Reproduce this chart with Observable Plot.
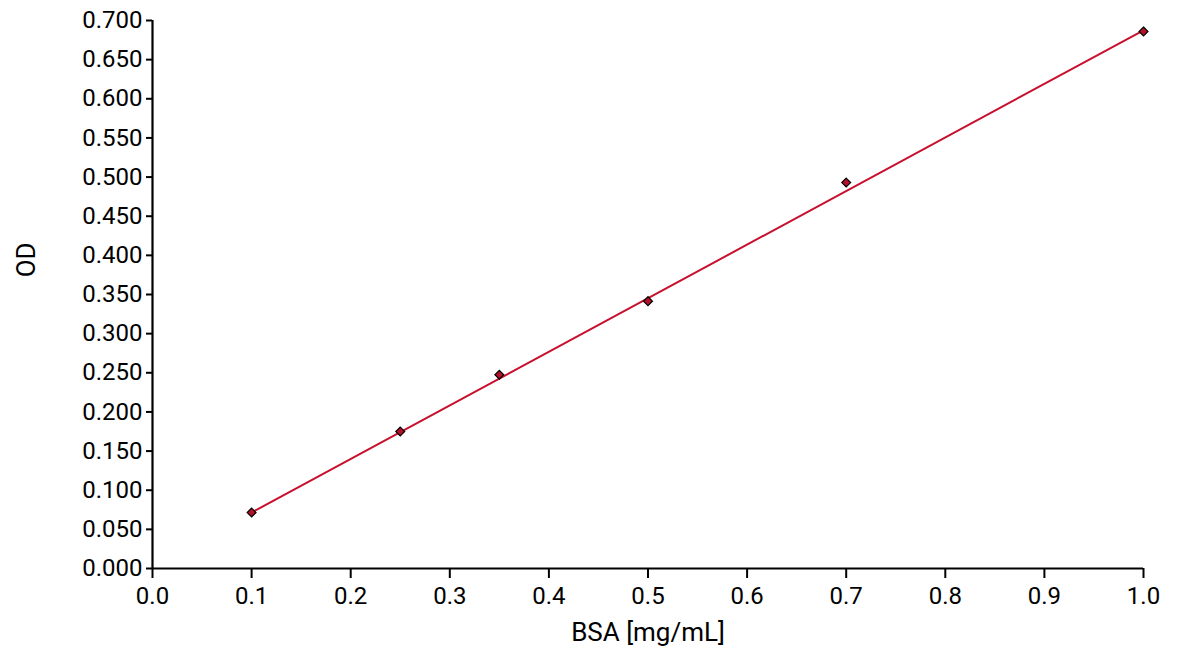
<!DOCTYPE html>
<html><head><meta charset="utf-8">
<script src="https://cdn.jsdelivr.net/npm/d3@7"></script>
<script src="https://cdn.jsdelivr.net/npm/@observablehq/plot@0.6"></script>
<style>
html,body{margin:0;padding:0;background:#fff}
#chart svg{font-family:Roboto,"DejaVu Sans",sans-serif;display:block}
</style>
</head><body><div id="chart"></div>
<script>
// Measured points
const bsa = [0.1, 0.25, 0.35, 0.5, 0.7, 1.0];
const od  = [0.0715, 0.175, 0.2475, 0.3415, 0.493, 0.686];
// Fitted standard line (endpoints)
const fitX = [0.1, 1.0];
const fitY = [0.0715, 0.6875];
// Axis ticks
const xTicks = [0, 0.1, 0.2, 0.3, 0.4, 0.5, 0.6, 0.7, 0.8, 0.9, 1.0];
const yTicks = [0, 0.05, 0.1, 0.15, 0.2, 0.25, 0.3, 0.35, 0.4, 0.45, 0.5, 0.55, 0.6, 0.65, 0.7];
const xLabel = "BSA [mg/mL]";
const yLabel = "OD";
const yLabelAt = [0.372];

const points = bsa.map((x, i) => ({x, y: od[i]}));
const fit = fitX.map((x, i) => ({x, y: fitY[i]}));

const chart = Plot.plot({
  width: 1200,
  height: 667,
  marginLeft: 152,
  marginRight: 57,
  marginTop: 20,
  marginBottom: 99,
  style: {fontFamily: "Roboto, 'DejaVu Sans', sans-serif", background: "#fff", color: "#000"},
  x: {domain: [0, 1], label: null},
  y: {domain: [0, 0.7], label: null},
  marks: [
    Plot.axisX({ticks: xTicks, tickFormat: d3.format(".1f"), tickSize: 10, tickPadding: 8,
      fontSize: 24, stroke: "#000", strokeWidth: 2, strokeOpacity: 1, label: null}),
    Plot.axisY({ticks: yTicks, tickFormat: d3.format(".3f"), tickSize: 6, tickPadding: 4,
      fontSize: 24, stroke: "#000", strokeWidth: 2, strokeOpacity: 1, label: null}),
    Plot.ruleX([0], {stroke: "#000", strokeWidth: 2.2}),
    Plot.ruleY([0], {stroke: "#000", strokeWidth: 2.2}),
    Plot.text([xLabel], {frameAnchor: "bottom", dy: 72, fontSize: 26, fill: "#000", text: d => d}),
    Plot.text(yLabelAt, {y: d => d, frameAnchor: "left", dx: -126, rotate: -90, fontSize: 26, fill: "#000", text: () => yLabel}),
    Plot.line(fit, {x: "x", y: "y", stroke: "#c8102e", strokeWidth: 2}),
    Plot.dot(points, {x: "x", y: "y", symbol: "diamond2", r: 4, fill: "#b5102a", stroke: "#000", strokeWidth: 1.2})
  ]
});
document.getElementById("chart").appendChild(chart);
</script>
</body></html>
